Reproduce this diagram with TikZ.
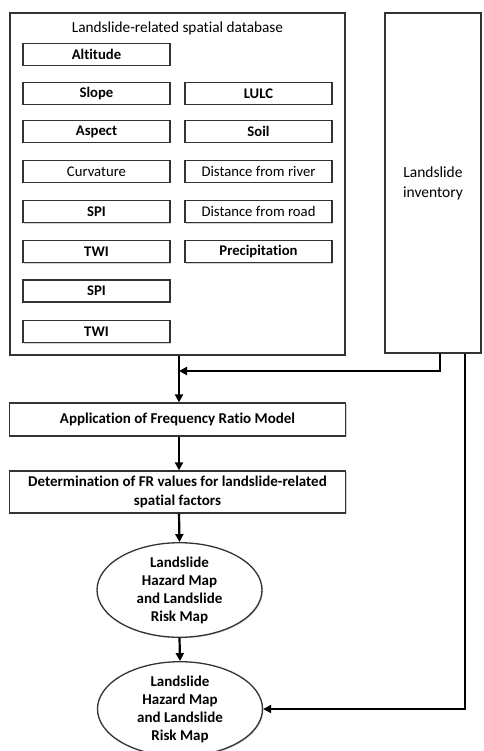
\documentclass[tikz,border=0pt]{standalone}
\usepackage{fontspec}
\setmainfont{Carlito}[Ligatures=NoCommon]
\usetikzlibrary{arrows.meta,shapes.geometric,shadows}
\definecolor{edge}{HTML}{333333}
\tikzset{
  frame/.style={draw=edge, line width=1.3pt, fill=white, drop shadow={shadow xshift=1pt, shadow yshift=-1pt, opacity=0.35}},
  item/.style={frame, minimum width=147pt, minimum height=22pt, inner sep=0pt, font=\fontsize{14.7}{16}\selectfont\bfseries},
  itemr/.style={item, font=\fontsize{14.7}{16}\selectfont},
  wide/.style={frame, minimum width=336pt, inner sep=0pt, align=center, font=\fontsize{15}{19}\selectfont\bfseries},
  oval/.style={frame, ellipse, minimum width=165pt, minimum height=88pt, inner sep=0pt, align=center, font=\fontsize{15}{18}\selectfont\bfseries},
  arr/.style={line width=2.2pt, -{Triangle[length=8pt,width=8pt]}},
}
\begin{document}
\begin{tikzpicture}[x=1pt,y=-1pt]
\useasboundingbox (0,0) rectangle (483,751);
% big boxes
\node[frame, minimum width=335pt, minimum height=342pt] (db) at (177.5,184) {};
\node[font=\fontsize{15.3}{17}\selectfont] (title) at (177.5,28) {Landslide-related spatial database};
\node[frame, minimum width=96pt, minimum height=340pt, align=center, font=\fontsize{15.5}{20}\selectfont] (inv) at (433,183) {Landslide\\inventory};
% left column
\node[item] (alt) at (96.5,54.5) {Altitude};
\node[item] (slope) at (96.5,93.5) {Slope};
\node[item] (aspect) at (96.5,131.5) {Aspect};
\node[itemr] (curv) at (96.5,171.5) {Curvature};
\node[item] (spi) at (96.5,211.5) {SPI};
\node[item] (twi) at (96.5,251.5) {TWI};
\node[item] (spib) at (96.5,291) {SPI};
\node[item] (twib) at (96.5,331.5) {TWI};
% right column
\node[item] (lulc) at (258.5,93.5) {LULC};
\node[item] (soil) at (258.5,131.5) {Soil};
\node[itemr] (river) at (258.5,171.5) {Distance from river};
\node[itemr] (road) at (258.5,211.5) {Distance from road};
\node[item] (prec) at (258.5,251.5) {Precipitation};
% flow
\node[wide, minimum height=33pt] (app) at (177.5,419.5) {Application of Frequency Ratio Model};
\node[wide, minimum height=42pt] (det) at (177.5,492) {Determination of FR values for landslide-related\\spatial factors};
\node[oval] (e1) at (179.5,590) {Landslide\\Hazard Map\\and Landslide\\Risk Map};
\node[oval] (e2) at (180,709) {Landslide\\Hazard Map\\and Landslide\\Risk Map};
\coordinate (j) at (179,371);
\draw[arr] (db.south -| j) -- (app.north -| j);
\draw[arr] ([xshift=7pt]inv.south) |- (j);
\draw[arr] (app.south -| j) -- (det.north -| j);
\draw[arr] (det.south -| j) -- (e1.north);
\draw[arr] (e1.south) -- (e2.north);
\draw[arr] ([xshift=32pt]inv.south) |- (e2.east);
\end{tikzpicture}
\end{document}
